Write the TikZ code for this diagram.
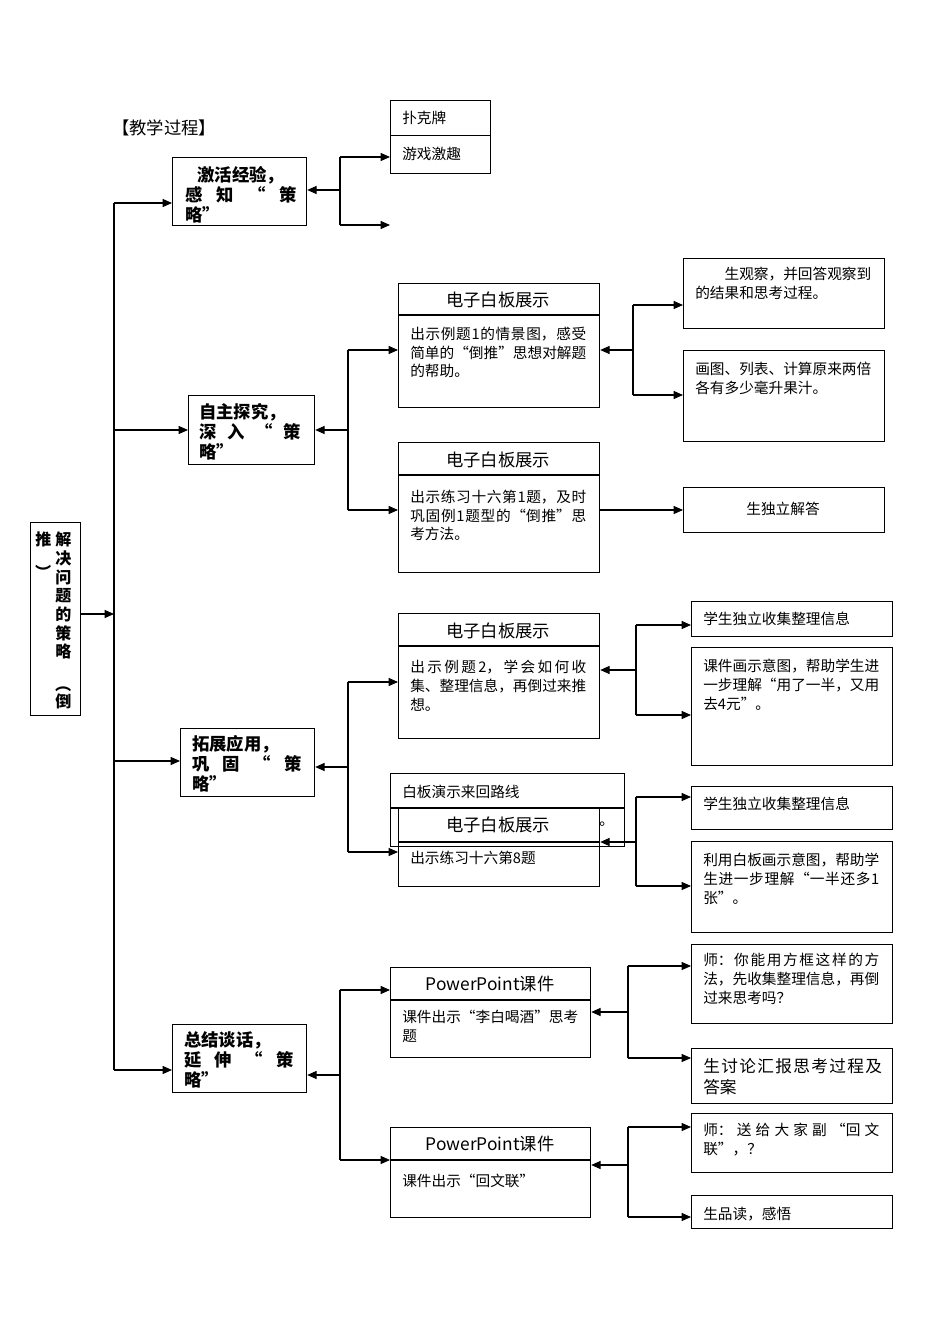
\documentclass[tikz,border=0pt]{standalone}
\usepackage{fontspec}
\setmainfont{Noto Sans CJK SC}
\XeTeXlinebreaklocale "zh"
\XeTeXlinebreakskip=0pt plus 1pt
\usetikzlibrary{arrows.meta}
\newcommand{\bx}[5]{\node[draw,line width=0.9pt,anchor=north west,inner sep=0pt,minimum width={(#4-#2)*0.75pt},minimum height={(#5-#3)*0.75pt}] (#1) at (#2,#3) {};}
\tikzset{
 x=0.75pt,y=-0.75pt,
 arr/.style={-{Triangle[length=7pt,width=6pt]},line width=0.8pt},
 ln/.style={line width=0.8pt},
 tx/.style={anchor=north west,inner sep=0pt,font=\fontsize{11}{14}\selectfont,align=justify},
 hd/.style={font=\fontsize{13}{16}\selectfont},
 bd/.style={anchor=north west,inner sep=0pt,font=\fontsize{13}{15}\selectfont\bfseries,align=justify}
}
\begin{document}
\begin{tikzpicture}
\useasboundingbox (0,0) rectangle (950,1344);
\node[tx,anchor=west,font=\fontsize{13}{15}\selectfont] (title) at (112,128) {【教学过程】};
% level 1 boxes
\bx{A}{172}{157}{306}{225}
\begin{scope}
\clip (172,157) rectangle (306,225);
\node[bd,text width=84pt] at (185,166) {\hspace*{0.7em}激活经验，\\感\hfill 知\hfill “\hfill 策\\略”};
\end{scope}
\bx{B}{188}{395}{314}{464}
\node[bd,text width=76pt] at (199,403) {自主探究，\\深\hfill 入\hfill “\hfill 策\\略”};
\bx{C}{180}{728}{314}{796}
\node[bd,text width=82pt] at (192,735) {拓展应用，\\巩\hfill 固\hfill “\hfill 策\\略”};
\bx{D}{172}{1024}{306}{1092}
\node[bd,text width=82pt] at (184,1031) {总结谈话，\\延\hfill 伸\hfill “\hfill 策\\略”};
\bx{R}{30}{522}{80}{715}
\node[tx,font=\fontsize{12}{14}\selectfont\bfseries,align=center,text width=12pt] at (55,532) {解\\决\\问\\题\\的\\策\\略\\\rotatebox{-90}{（}\\倒};
\node[tx,font=\fontsize{12}{14}\selectfont\bfseries,align=center,text width=12pt] at (35,532) {推\\\rotatebox{-90}{）}};
% trunk
\coordinate (t1) at (114,203); \coordinate (t4) at (114,1070);
\draw[ln] (t1) -- (t4);
\draw[arr] (R.east |- 0,614) -- (114,614);
\draw[arr] (t1) -- (A.west |- t1);
\draw[arr] (114,430) -- (B.west |- 0,430);
\draw[arr] (114,761) -- (C.west |- 0,761);
\draw[arr] (t4) -- (D.west |- t4);
% A branch
\bx{K1}{390}{100}{490}{135}
\bx{K2}{390}{135}{490}{173}
\node[tx] at (402,111) {扑克牌};
\node[tx] at (402,147) {游戏激趣};
\draw[ln] (340,157) -- (340,225);
\draw[arr] (340,157) -- (K2.west |- 0,157);
\draw[arr] (340,225) -- (390,225);
\draw[arr] (340,190) -- (A.east |- 0,190);
% B branch
\bx{P1}{398}{283}{599}{407} \draw[ln] (398,315) -- (599,315);
\node[hd] at (498,300) {电子白板展示};
\node[tx,text width=132pt] at (410,327) {出示例题1的情景图，感受简单的“倒推”思想对解题的帮助。};
\bx{P2}{398}{442}{599}{572} \draw[ln] (398,475) -- (599,475);
\node[hd] at (498,460) {电子白板展示};
\node[tx,text width=132pt] at (410,490) {出示练习十六第1题，及时巩固例1题型的“倒推”思考方法。};
\draw[ln] (348,350) -- (348,510);
\draw[arr] (348,430) -- (B.east |- 0,430);
\draw[arr] (348,350) -- (P1.west |- 0,350);
\draw[arr] (348,510) -- (P2.west |- 0,510);
\bx{Q1}{683}{258}{884}{328}
\node[tx,text width=132pt] at (695,267) {\hspace*{2em}生观察，并回答观察到的结果和思考过程。};
\bx{Q2}{683}{350}{884}{441}
\node[tx,text width=132pt] at (695,362) {画图、列表、计算原来两倍各有多少毫升果汁。};
\draw[ln] (633,305) -- (633,395);
\draw[arr] (633,350) -- (P1.east |- 0,350);
\draw[arr] (633,305) -- (Q1.west |- 0,305);
\draw[arr] (633,395) -- (Q2.west |- 0,395);
\bx{Q3}{683}{487}{884}{532}
\node[tx,anchor=center] at (783,509) {生独立解答};
\draw[arr] (P2.east |- 0,510) -- (Q3.west |- 0,510);
% C branch
\bx{P3}{398}{613}{599}{738} \draw[ln] (398,646) -- (599,646);
\node[hd] at (498,631) {电子白板展示};
\node[tx,text width=132pt] at (410,660) {出示例题2，学会如何收集、整理信息，再倒过来推想。};
\bx{W}{390}{773}{624}{846} \draw[ln] (390,808) -- (624,808);
\node[tx] at (402,785) {白板演示来回路线};
\node[tx] at (599,822) {。};
\bx{P4}{398}{808}{599}{886} \draw[ln] (398,842) -- (599,842);
\node[hd,fill=white,inner sep=1pt] at (498,825) {电子白板展示};
\node[tx] at (410,851) {出示练习十六第8题};
\draw[ln] (348,682) -- (348,852);
\draw[arr] (348,767) -- (C.east |- 0,767);
\draw[arr] (348,682) -- (P3.west |- 0,682);
\draw[arr] (348,852) -- (P4.west |- 0,852);
\bx{S1}{691}{601}{892}{636}
\node[tx] at (703,612) {学生独立收集整理信息};
\bx{S2}{691}{647}{892}{765}
\node[tx,text width=132pt] at (703,659) {课件画示意图，帮助学生进一步理解“用了一半，又用去4元”。};
\draw[ln] (636,625) -- (636,715);
\draw[arr] (636,670) -- (P3.east |- 0,670);
\draw[arr] (636,625) -- (S1.west |- 0,625);
\draw[arr] (636,715) -- (S2.west |- 0,715);
\bx{S3}{691}{786}{892}{829}
\node[tx] at (703,797) {学生独立收集整理信息};
\bx{S4}{691}{841}{892}{932}
\node[tx,text width=132pt] at (703,853) {利用白板画示意图，帮助学生进一步理解“一半还多1张”。};
\draw[ln] (636,797) -- (636,886);
\draw[arr] (636,842) -- (P4.east |- 0,842);
\draw[arr] (636,797) -- (S3.west |- 0,797);
\draw[arr] (636,886) -- (S4.west |- 0,886);
% D branch
\bx{P5}{390}{967}{590}{1057} \draw[ln] (390,1000) -- (590,1000);
\node[hd] at (490,984) {PowerPoint课件};
\node[tx,text width=132pt] at (402,1010) {课件出示“李白喝酒”思考题};
\bx{P6}{390}{1127}{590}{1217} \draw[ln] (390,1160) -- (590,1160);
\node[hd] at (490,1144) {PowerPoint课件};
\node[tx] at (402,1174) {课件出示“回文联”};
\draw[ln] (340,990) -- (340,1160);
\draw[arr] (340,1075) -- (D.east |- 0,1075);
\draw[arr] (340,990) -- (P5.west |- 0,990);
\draw[arr] (340,1160) -- (P6.west |- 0,1160);
\bx{T1}{691}{944}{892}{1023}
\node[tx,text width=132pt] at (703,953) {师：你能用方框这样的方法，先收集整理信息，再倒过来思考吗？};
\bx{T2}{691}{1048}{892}{1103}
\node[tx,text width=134pt,font=\fontsize{12.5}{16}\selectfont] at (703,1058) {生讨论汇报思考过程及答案};
\draw[ln] (628,966) -- (628,1058);
\draw[arr] (628,1012) -- (P5.east |- 0,1012);
\draw[arr] (628,966) -- (T1.west |- 0,966);
\draw[arr] (628,1058) -- (T2.west |- 0,1058);
\bx{T3}{691}{1113}{892}{1172}
\node[tx,text width=132pt] at (703,1123) {师：送给大家副“回文联”，？};
\bx{T4}{691}{1195}{892}{1228}
\node[tx] at (703,1207) {生品读，感悟};
\draw[ln] (628,1127) -- (628,1217);
\draw[arr] (628,1165) -- (P6.east |- 0,1165);
\draw[arr] (628,1127) -- (T3.west |- 0,1127);
\draw[arr] (628,1217) -- (T4.west |- 0,1217);
\end{tikzpicture}
\end{document}
